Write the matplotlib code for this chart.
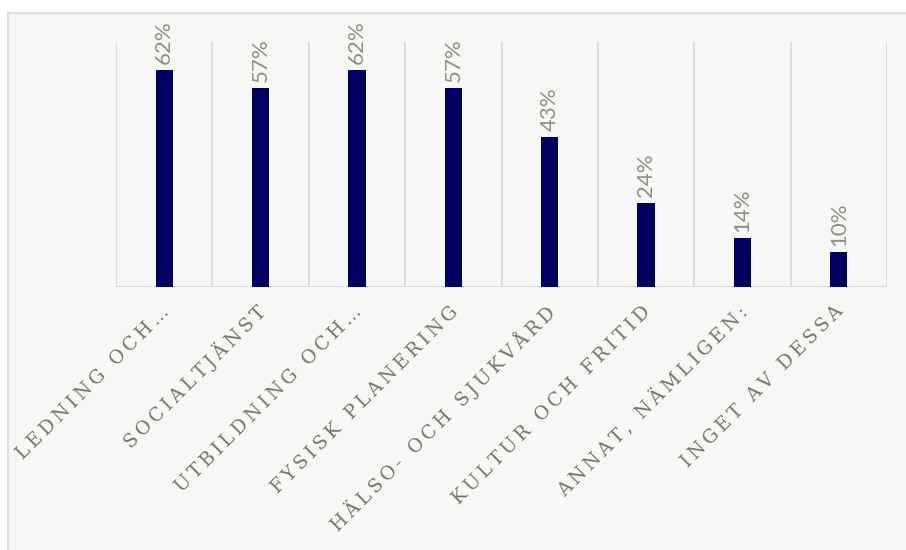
import numpy as np
import matplotlib.pyplot as plt
from matplotlib.patches import Rectangle
import matplotlib.transforms as mtransforms

categories = ["LEDNING OCH…", "SOCIALTJÄNST", "UTBILDNING OCH…", "FYSISK PLANERING",
              "HÄLSO- OCH SJUKVÅRD", "KULTUR OCH FRITID", "ANNAT, NÄMLIGEN:", "INGET AV DESSA"]
values = [0.62, 0.57, 0.62, 0.57, 0.43, 0.24, 0.14, 0.10]
value_labels = ["62%", "57%", "62%", "57%", "43%", "24%", "14%", "10%"]

BG = "#f7f7f5"
BAR = "#000060"
TXT = "#8f8f85"
GRID = "#d9d9d6"

W, H = 906, 550
fig = plt.figure(figsize=(W / 100, H / 100), dpi=100)
fig.patch.set_facecolor("white")
# outer chart frame
fig.patches.append(Rectangle((8 / W, -0.1), 1.2, (H - 13) / H + 0.1, transform=fig.transFigure,
                             facecolor=BG, edgecolor="#d9d9d9", lw=1.2, zorder=-5))

ax = fig.add_axes([116 / W, (H - 287) / H, (887 - 116) / W, (287 - 42) / H])
ax.set_zorder(2)
ax.set_facecolor(BG)
x = np.arange(len(categories))
ax.bar(x, values, width=0.18, color=BAR, zorder=3)
ax.set_xlim(-0.5, len(categories) - 0.5)
ax.set_ylim(0, 0.70)

for b in np.arange(len(categories) + 1) - 0.5:
    ax.axvline(b, color=GRID, lw=1.2, zorder=1)
for s in ax.spines.values():
    s.set_visible(False)
ax.axhline(0, color=GRID, lw=1.5, zorder=2)
ax.set_yticks([])
ax.tick_params(axis="x", length=0)

ax.set_xticks(x)
# letter-spaced caps like the original
spaced = ["\u2009".join(c) for c in categories]
ax.set_xticklabels(spaced, rotation=45, ha="right", va="center", rotation_mode="anchor",
                   fontsize=13.5, color="#74746b", family="DejaVu Serif")
offset = mtransforms.ScaledTranslation(2 / 100, -17 / 100, fig.dpi_scale_trans)
for lab in ax.get_xticklabels():
    lab.set_transform(lab.get_transform() + offset)

for xi, v, t in zip(x, values, value_labels):
    ax.annotate(t, (xi, v), xytext=(0, 4), textcoords="offset points", rotation=90,
                ha="center", va="bottom", fontsize=16, color=TXT, family="Lato",
                annotation_clip=False)

fig.savefig("out.png", dpi=100, facecolor=fig.get_facecolor())
